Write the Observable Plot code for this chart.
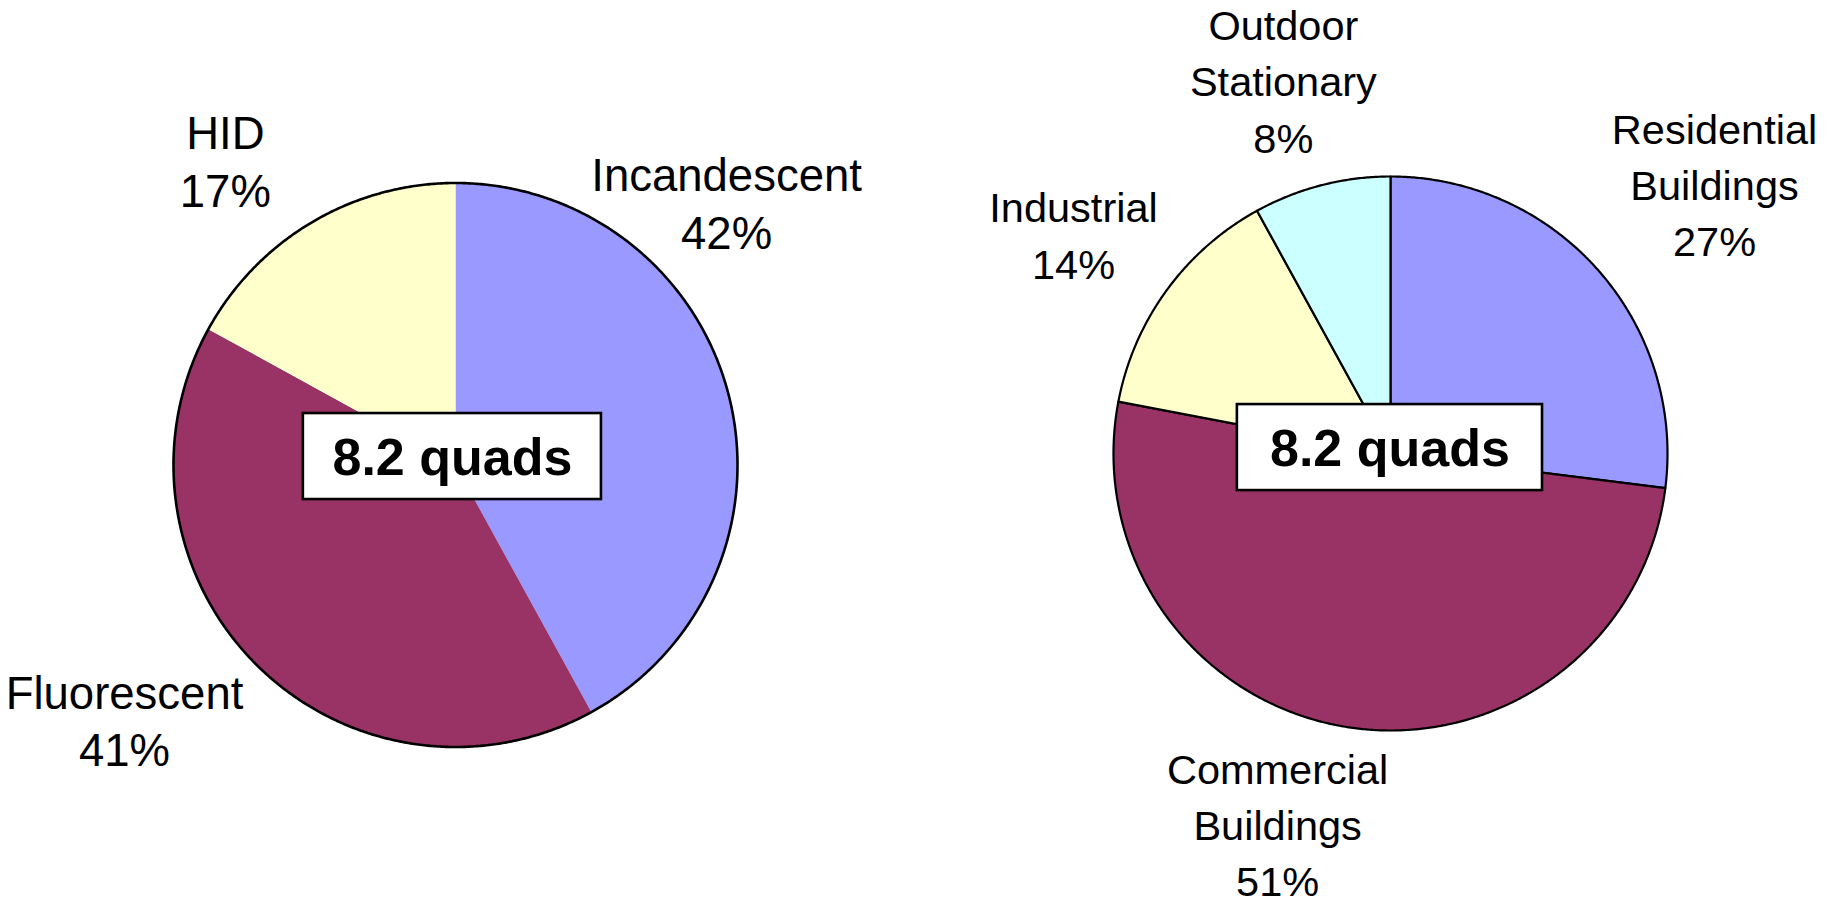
<!DOCTYPE html>
<html>
<head>
<meta charset="utf-8">
<script src="https://cdn.jsdelivr.net/npm/d3@7"></script>
<script src="https://cdn.jsdelivr.net/npm/@observablehq/plot@0.6"></script>
<style>
  html, body { margin: 0; padding: 0; background: #ffffff; }
  #chart { width: 1835px; height: 905px; }
</style>
</head>
<body>
<div id="chart"></div>
<script>
// ---------------- DATA ----------------
const technologyCategories = ["Incandescent", "Fluorescent", "HID"];
const technologyShares = [42, 41, 17];            // percent
const sectorCategories = ["Residential\nBuildings", "Commercial\nBuildings", "Industrial", "Outdoor\nStationary"];
const sectorShares = [27, 51, 14, 8];             // percent
const totalQuads = [8.2, 8.2];                    // total for each pie
const totalUnit = "quads";

// ---------------- STYLES ----------------
const technologyColors = ["#9999ff", "#993366", "#ffffcc"];
const sectorColors = ["#9999ff", "#993366", "#ffffcc", "#ccffff"];
const FONT = "'Liberation Sans', Arial, Helvetica, sans-serif";

// ---------------- LAYOUT ----------------
// units: 1 = radius of the left pie; PX pixels per unit
const W = 1835, H = 905, PX = 282;
const originX = 455, originY = 464.5;             // pixel position of the left pie centre
// label placement: [angle clockwise from 12 o'clock (deg), distance in pie radii] of last-line baseline
const technologyLabelPlacement = [[51.4, 1.230], [227.7, 1.587], [318.3, 1.227]];
const sectorLabelPlacement = [[58.7, 1.369], [194.3, 1.650], [298.9, 1.307], [340.4, 1.153]];

const pies = [
  {id: "technology", cx: 0, cy: 0, r: 1, separators: false,
   categories: technologyCategories, shares: technologyShares, colors: technologyColors,
   labelPlacement: technologyLabelPlacement, total: totalQuads[0],
   labelSize: 45.5, labelLine: 1.26,
   box: {dx: -0.011, dy: 0.030, w: 1.057, h: 0.305}},
  {id: "sector", cx: 3.3156, cy: 0.0408, r: 0.9823, separators: true,
   categories: sectorCategories, shares: sectorShares, colors: sectorColors,
   labelPlacement: sectorLabelPlacement, total: totalQuads[1],
   labelSize: 41.5, labelLine: 1.36,
   box: {dx: -0.002, dy: 0.021, w: 1.082, h: 0.305}}
];

// ---------------- GEOMETRY (from data via d3.pie) ----------------
const rad = Math.PI / 180;
const slicePts = [];   // polygon vertices for each slice
const rimPts = [];     // outer circle for pies without separators
const labels = [];
const boxes = [];

for (const p of pies) {
  const rows = p.categories.map((c, i) => ({category: c, share: p.shares[i], color: p.colors[i], i}));
  const arcs = d3.pie().sort(null).value(d => d.share)(rows);
  for (const a of arcs) {
    const key = p.id + "-" + a.data.i;
    slicePts.push({key, pie: p.id, sep: p.separators, color: a.data.color, x: p.cx, y: p.cy});
    const n = Math.max(2, Math.ceil((a.endAngle - a.startAngle) / (0.4 * rad)));
    for (let k = 0; k <= n; ++k) {
      const t = a.startAngle + (a.endAngle - a.startAngle) * k / n;
      slicePts.push({key, pie: p.id, sep: p.separators, color: a.data.color,
                     x: p.cx + p.r * Math.sin(t), y: p.cy + p.r * Math.cos(t)});
    }
    const [ang, dist] = p.labelPlacement[a.data.i];
    labels.push({pie: p.id, text: `${a.data.category}\n${a.data.share}%`,
                 x: p.cx + dist * p.r * Math.sin(ang * rad),
                 y: p.cy + dist * p.r * Math.cos(ang * rad)});
  }
  if (!p.separators) {
    for (let k = 0; k < 900; ++k) {
      const t = 2 * Math.PI * k / 900;
      rimPts.push({pie: p.id, x: p.cx + p.r * Math.sin(t), y: p.cy + p.r * Math.cos(t)});
    }
  }
  const bx = p.cx + p.box.dx, by = p.cy + p.box.dy;
  boxes.push({x: bx, y: by, x1: bx - p.box.w / 2, x2: bx + p.box.w / 2,
              y1: by - p.box.h / 2, y2: by + p.box.h / 2, text: `${p.total} ${totalUnit}`});
}

const labelMarks = pies.map(p =>
  Plot.text(labels.filter(d => d.pie === p.id), {
    x: "x", y: "y", text: "text", fontSize: p.labelSize, lineAnchor: "bottom",
    lineHeight: p.labelLine, fill: "black", fontFamily: FONT
  })
);

// ---------------- PLOT ----------------
const chart = Plot.plot({
  width: W,
  height: H,
  margin: 0,
  x: {domain: [-originX / PX, (W - originX) / PX], range: [0, W], axis: null},
  y: {domain: [-(H - originY) / PX, originY / PX], range: [H, 0], axis: null},
  color: {type: "identity"},
  style: {fontFamily: FONT, background: "#ffffff"},
  marks: [
    Plot.line(slicePts.filter(d => !d.sep), {x: "x", y: "y", z: "key", fill: "color", stroke: null, curve: "linear-closed"}),
    Plot.line(slicePts.filter(d => d.sep), {x: "x", y: "y", z: "key", fill: "color", stroke: "black", strokeWidth: 2.2, strokeLinejoin: "round", curve: "linear-closed"}),
    Plot.line(rimPts, {x: "x", y: "y", z: "pie", stroke: "black", strokeWidth: 2.6, curve: "linear-closed"}),
    Plot.rect(boxes, {x1: "x1", x2: "x2", y1: "y1", y2: "y2", fill: "white", stroke: "black", strokeWidth: 2.6}),
    Plot.text(boxes, {x: "x", y: "y", text: "text", fontSize: 52, fontWeight: "bold", fill: "black", fontFamily: FONT, dy: 2}),
    ...labelMarks
  ]
});
document.getElementById("chart").appendChild(chart);
</script>
</body>
</html>
